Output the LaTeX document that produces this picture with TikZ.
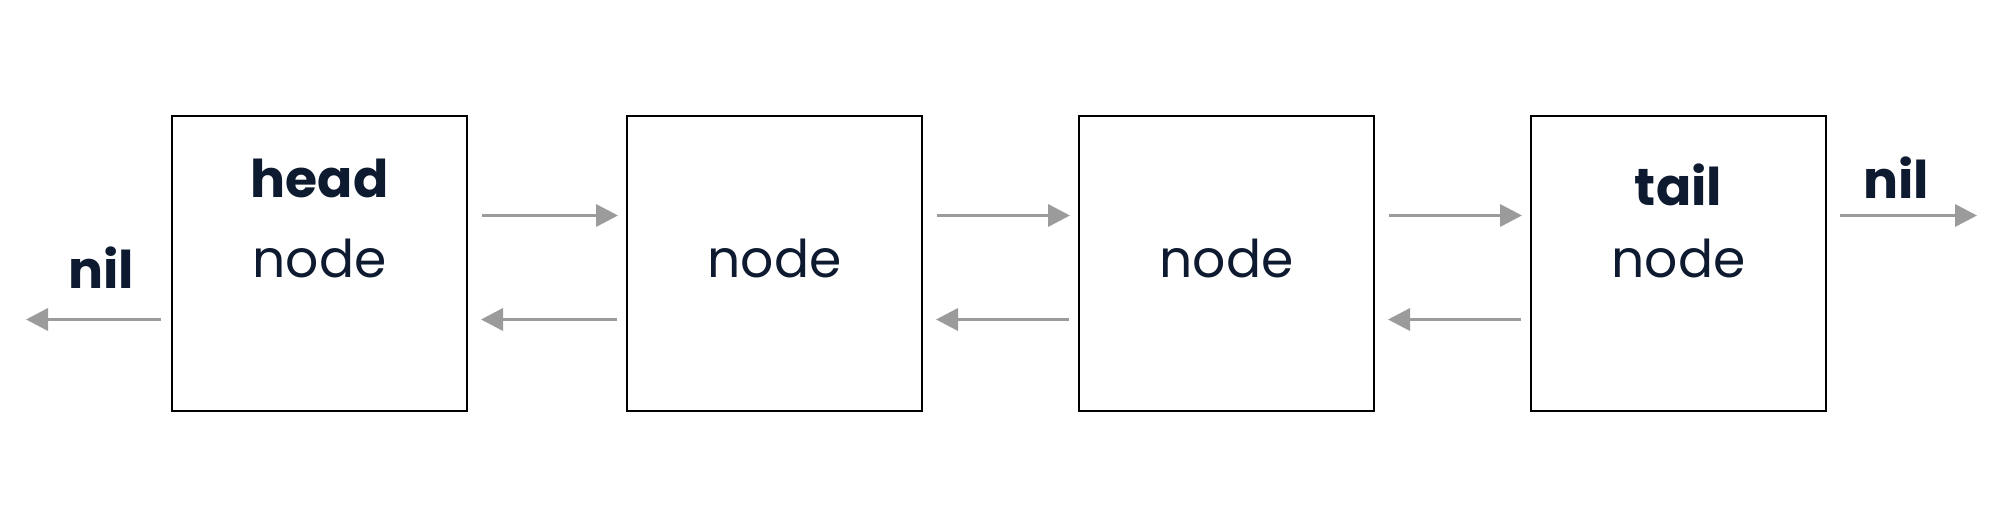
\documentclass[tikz,border=0pt]{standalone}
\usepackage{fontspec}
\setmainfont{Poppins}
\usetikzlibrary{arrows.meta}
\definecolor{ink}{HTML}{0E1A2F}
\definecolor{arr}{HTML}{9B9B9B}
\begin{document}
\begin{tikzpicture}[x=1pt,y=-1pt,
  box/.style={draw=black,line width=2.7pt,minimum size=295pt,inner sep=0pt,outer sep=0pt,anchor=north west},
  link/.style={draw=arr,line width=3.5pt,-{Triangle[length=22pt,width=22pt]}},
  boldtxt/.style={font=\fontsize{52}{52}\selectfont\bfseries,text=ink,anchor=base,inner sep=0pt},
  plaintxt/.style={font=\fontsize{52}{52}\selectfont,text=ink,anchor=base,inner sep=0pt}]
\useasboundingbox[fill=white] (0,0) rectangle (2002,529);
\node[box] (b1) at (172,116) {};
\node[box] (b2) at (627,116) {};
\node[box] (b3) at (1079,116) {};
\node[box] (b4) at (1531,116) {};
\node[boldtxt] (head) at (319.5,198) {head};
\node[plaintxt] (n1) at (319.5,278) {node};
\node[plaintxt] (n2) at (774.5,278) {node};
\node[plaintxt] (n3) at (1226.5,278) {node};
\node[boldtxt] (tail) at (1678.5,206) {tail};
\node[plaintxt] (n4) at (1678.5,278) {node};
\node[boldtxt] (nilL) at (101,289) {nil};
\node[boldtxt] (nilR) at (1896,199) {nil};
\coordinate (endL) at (26,0);
\coordinate (endR) at (1977,0);
\foreach \a/\b in {b1/b2,b2/b3,b3/b4}{
  \draw[link] ([shift={(15,-48)}]\a.east) -- ([shift={(-9,-48)}]\b.west);
  \draw[link] ([shift={(-10,56)}]\b.west) -- ([shift={(14,56)}]\a.east);
}
\coordinate (sL) at ([shift={(-11,56)}]b1.west);
\coordinate (sR) at ([shift={(14,-48)}]b4.east);
\draw[link] (sL) -- (sL -| endL);
\draw[link] (sR) -- (sR -| endR);
\end{tikzpicture}
\end{document}
